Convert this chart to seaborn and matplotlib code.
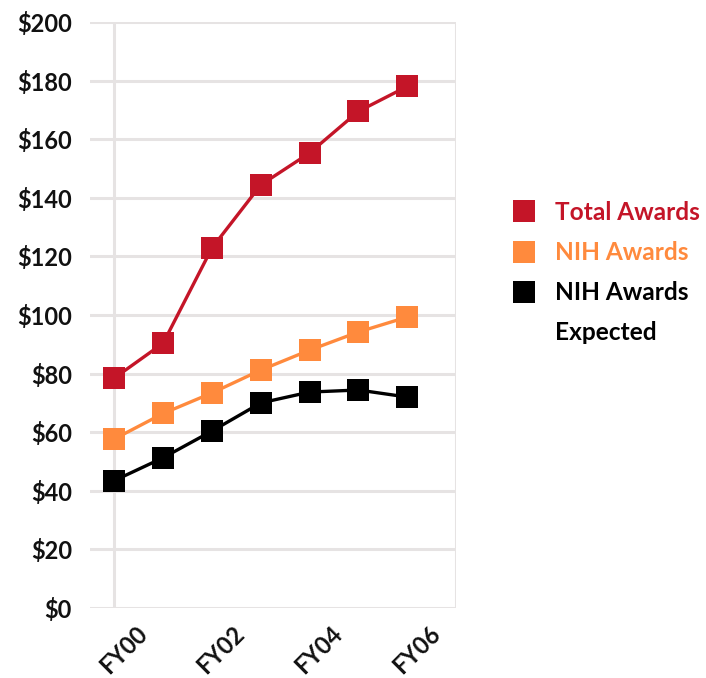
import matplotlib
matplotlib.use("Agg")
import matplotlib.pyplot as plt
from matplotlib.lines import Line2D
from matplotlib.transforms import ScaledTranslation
import seaborn as sns
import pandas as pd

years = ["FY00", "FY01", "FY02", "FY03", "FY04", "FY05", "FY06"]
total_awards = [78.5, 90.4, 122.9, 144.4, 155.3, 169.5, 178.0]
nih_awards = [57.7, 66.4, 73.4, 81.2, 88.0, 94.2, 99.3]
nih_expected = [43.5, 51.3, 60.4, 70.0, 73.7, 74.4, 72.0]
series_names = ["Total Awards", "NIH Awards", "NIH Awards Expected"]
legend_labels = ["Total Awards", "NIH Awards", "NIH Awards", "Expected"]
colors = ["#C41528", "#FF8A3D", "#000000"]
tick_labels = ["FY00", "", "FY02", "", "FY04", "", "FY06", ""]
y_ticks = list(range(0, 201, 20))

rows = []
for name, vals in zip(series_names, [total_awards, nih_awards, nih_expected]):
    for i, (yr, v) in enumerate(zip(years, vals)):
        rows.append({"idx": i, "year": yr, "value": v, "series": name})
df = pd.DataFrame(rows)

sns.set_theme(style="white")
plt.rcParams["font.family"] = ["Lato", "DejaVu Sans"]
plt.rcParams["font.weight"] = "bold"

fig = plt.figure(figsize=(7.06, 6.78), dpi=100)
ax = fig.add_axes([90 / 706, 1 - 608 / 678, (456 - 90) / 706, (608 - 22) / 678])

grid_c = "#E6E3E3"
sns.lineplot(data=df, x="idx", y="value", hue="series", hue_order=series_names,
             palette=colors, marker="s", markersize=16, markeredgewidth=0,
             linewidth=2.4, legend=False, ax=ax, zorder=3)

ax.set_xlim(-0.5, 7)
ax.set_ylim(0, 200)
ax.set_yticks(y_ticks)
ax.set_yticklabels([f"${v}" for v in y_ticks])
ax.set_xticks(range(len(tick_labels)))
ax.set_xticklabels(tick_labels, rotation=45, ha="right", va="center",
                   rotation_mode="anchor")
ax.set_xlabel("")
ax.set_ylabel("")
for s in ax.spines.values():
    s.set_visible(False)
ax.yaxis.grid(True, color=grid_c, linewidth=2.2)
ax.xaxis.grid(False)
ax.axvline(0, color=grid_c, linewidth=2.2, zorder=1)
ax.axvline(7, color=grid_c, linewidth=2.2, zorder=1)
ax.tick_params(axis="y", length=0, pad=13, labelsize=17, labelcolor="#111111")
ax.tick_params(axis="x", length=17, width=2.2, color=grid_c, pad=-1.2,
               labelsize=17, labelcolor="#111111", direction="out")
offset = ScaledTranslation(0.29, 0, fig.dpi_scale_trans)
for lab in ax.get_xticklabels():
    lab.set_transform(lab.get_transform() + offset)
for lab in ax.get_yticklabels() + ax.get_xticklabels():
    lab.set_fontweight("bold")

handles = [Line2D([], [], linestyle="none", marker="s", markersize=16,
                  markeredgewidth=0, color=c) for c in colors]
handles.append(Line2D([], [], linestyle="none", marker=None, color="none"))
leg = fig.legend(handles, legend_labels, loc="upper left",
                 bbox_to_anchor=(512 / 706, 1 - 201 / 678), frameon=False,
                 prop={"size": 17.6, "weight": "bold"}, handlelength=1.0,
                 handletextpad=0.75, labelspacing=0.7, borderpad=0,
                 borderaxespad=0)
for t, c in zip(leg.get_texts(), colors + ["#000000"]):
    t.set_color(c)

fig.savefig("out.png", dpi=100)
